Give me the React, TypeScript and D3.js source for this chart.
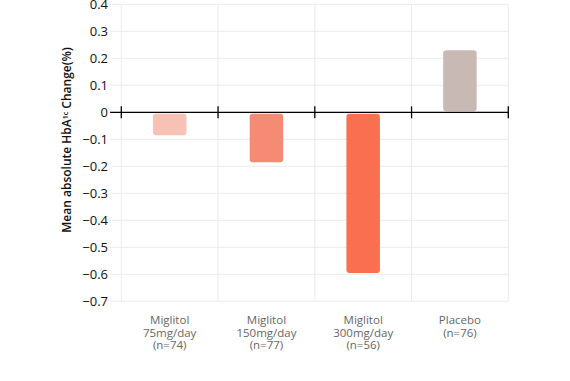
import React from "react";
import * as d3 from "d3";

const categories = ["Miglitol\n75mg/day\n(n=74)", "Miglitol\n150mg/day\n(n=77)", "Miglitol\n300mg/day\n(n=56)", "Placebo\n(n=76)"];
const values = [-0.085, -0.185, -0.595, 0.23];
const colors = ["#f8c1b5", "#f58b75", "#fb6f51", "#c8b9b5"];
const yTicks = [0.4, 0.3, 0.2, 0.1, 0, -0.1, -0.2, -0.3, -0.4, -0.5, -0.6, -0.7];

export default function App() {
  const W = 570, H = 381;
  const left = 121.3, right = 508.3, top = 4.3, bottom = 301.3;
  const x = d3.scaleBand<string>().domain(categories).range([left, right]).paddingInner(0).paddingOuter(0);
  const y = d3.scaleLinear().domain([-0.7, 0.4]).range([bottom, top]);
  const bw = 33.5;
  const font = "'Open Sans', 'Noto Sans', sans-serif";
  const y0 = y(0);
  const fmt = (v: number) => (v === 0 ? "0" : d3.format(".1f")(v));
  const gridXs = [...categories.map((c) => x(c)!), right];
  return (
    <svg width={W} height={H} style={{ position: "absolute", left: 0, top: 0 }}>
      <rect width={W} height={H} fill="#fff" />
      {yTicks.map((t) => (
        <line key={"h" + t} x1={110} x2={right} y1={y(t)} y2={y(t)} stroke="#ebebeb" strokeWidth={1} />
      ))}
      {gridXs.map((gx, i) => (
        <line key={"v" + i} x1={gx} x2={gx} y1={top} y2={bottom} stroke="#ebebeb" strokeWidth={1} />
      ))}
      {categories.map((c, i) => {
        const v = values[i];
        const cx = x(c)! + x.bandwidth() / 2;
        const y1 = v < 0 ? y0 + 1.5 : y(v);
        const y2 = v < 0 ? y(v) : y0 - 1;
        return <rect key={c} x={cx - bw / 2} y={y1} width={bw} height={y2 - y1} rx={3} fill={colors[i]} />;
      })}
      <line x1={110} x2={right} y1={y0} y2={y0} stroke="#000" strokeWidth={1.3} />
      {gridXs.map((gx, i) => (
        <line key={"t" + i} x1={gx} x2={gx} y1={y0 - 6} y2={y0 + 6} stroke="#000" strokeWidth={1.3} />
      ))}
      {yTicks.map((t) => (
        <text key={"l" + t} x={108} y={y(t)} dy="0.35em" textAnchor="end" fontSize={13} fontFamily={font} fill="#111">
          {fmt(t)}
        </text>
      ))}
      {categories.map((c) =>
        c.split("\n").map((line, j) => {
          const cx = x(c)! + x.bandwidth() / 2;
          return (
            <text key={"x" + c + j} x={cx} y={320 + j * 12.6} dy="0.35em" textAnchor="middle" fontSize={11.5} fontFamily={font} fill="#666">
              {line}
            </text>
          );
        })
      )}
      <text transform={`translate(71,140) rotate(-90)`} textAnchor="middle" fontSize={12} fontWeight={600} fontFamily={font} fill="#111">
        Mean absolute HbA<tspan fontSize={7} dy={-3}>1c</tspan><tspan dy={3}> Change(%)</tspan>
      </text>
    </svg>
  );
}
